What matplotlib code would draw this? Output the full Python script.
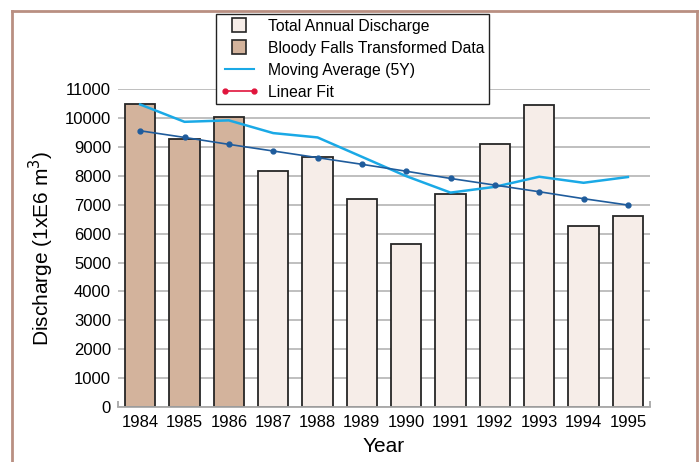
import matplotlib.pyplot as plt
from matplotlib.lines import Line2D
from matplotlib.legend_handler import HandlerLine2D

years = ['1984', '1985', '1986', '1987', '1988', '1989',
         '1990', '1991', '1992', '1993', '1994', '1995']
discharge = [10470, 9260, 10030, 8170, 8650, 7210,
             5650, 7360, 9100, 10460, 6250, 6620]
transformed = [True, True, True, False, False, False,
               False, False, False, False, False, False]
moving_avg = [10470, 9870, 9920, 9480, 9330, 8660,
              7990, 7420, 7620, 7970, 7760, 7960]
linear_fit = [9560, 9330, 9090, 8860, 8630, 8400,
              8160, 7910, 7680, 7450, 7210, 6990]
yticks = list(range(0, 11001, 1000))

plt.rcParams['font.family'] = ['Liberation Sans', 'DejaVu Sans']

fig = plt.figure(figsize=(6.99, 4.62), dpi=100)
ax = fig.add_axes([0.1688, 0.119, 0.7612, 0.688])

x = list(range(len(years)))
tan = '#d3b39c'
light = '#f6ede8'
colors = [tan if t else light for t in transformed]
ax.bar(x, discharge, width=0.68, color=colors, edgecolor='#262626', linewidth=1.3, zorder=2)
ax.plot(x, moving_avg, color='#1aa9e6', linewidth=1.8, zorder=3)
ax.plot(x, linear_fit, color='#1f5c9c', linewidth=1.2, marker='o', markersize=3.5, zorder=4)

ax.set_xlim(-0.5, 11.5)
ax.set_ylim(0, 11000)
ax.set_yticks(yticks)
ax.set_xticks(x)
ax.set_xticklabels(years)
ax.set_xticks([-0.5, 11.5], minor=True)
ax.tick_params(axis='both', labelsize=12, length=0)
ax.tick_params(axis='x', pad=6)
ax.tick_params(axis='y', pad=5)
ax.tick_params(axis='x', which='minor', direction='in', length=4, color='#a0a0a0', width=1.2)
ax.grid(axis='y', color='#b4b4b4', linewidth=1.2, zorder=0)
ax.set_axisbelow(True)
for s in ['top', 'left', 'right']:
    ax.spines[s].set_visible(False)
ax.spines['bottom'].set_color('#a8a8a8')
ax.spines['bottom'].set_linewidth(1.3)

ax.set_xlabel('Year', fontsize=15, labelpad=5)
ax.set_ylabel('Discharge (1xE6 m$^3$)', fontsize=15, labelpad=6)

# legend handles (the fit line shows red in the legend, as in the original)
sq_total = Line2D([], [], linestyle='none', marker='s', markersize=10,
                  markerfacecolor=light, markeredgecolor='#262626', markeredgewidth=1.2)
sq_bloody = Line2D([], [], linestyle='none', marker='s', markersize=10,
                   markerfacecolor=tan, markeredgecolor='#262626', markeredgewidth=1.2)
ln_avg = Line2D([], [], color='#1aa9e6', linewidth=1.5)
ln_fit = Line2D([], [], color='#e0143c', linewidth=1.2, marker='o', markersize=3.5)
handles = [sq_total, sq_bloody, ln_avg, ln_fit]
labels = ['Total Annual Discharge', 'Bloody Falls Transformed Data',
          'Moving Average (5Y)', 'Linear Fit']
leg = ax.legend(handles, labels, loc='upper left', bbox_to_anchor=(0.184, 1.237),
                fontsize=11.3, frameon=True, fancybox=False, framealpha=1,
                edgecolor='#222222', handlelength=2.4, numpoints=2,
                labelspacing=0.45, borderpad=0.3, handletextpad=0.6, borderaxespad=0,
                handler_map={sq_total: HandlerLine2D(numpoints=1),
                             sq_bloody: HandlerLine2D(numpoints=1)})
leg.get_frame().set_linewidth(1.0)
leg.set_zorder(10)

# frame around the figure
bc = '#b98f82'
fig.add_artist(Line2D([12 / 699, 12 / 699], [0, 1 - 11 / 462], color=bc, linewidth=2))
fig.add_artist(Line2D([12 / 699, 697 / 699], [1 - 11 / 462, 1 - 11 / 462], color=bc, linewidth=2))
fig.add_artist(Line2D([697 / 699, 697 / 699], [0, 1 - 11 / 462], color=bc, linewidth=2))

fig.savefig('out.png', dpi=100)
